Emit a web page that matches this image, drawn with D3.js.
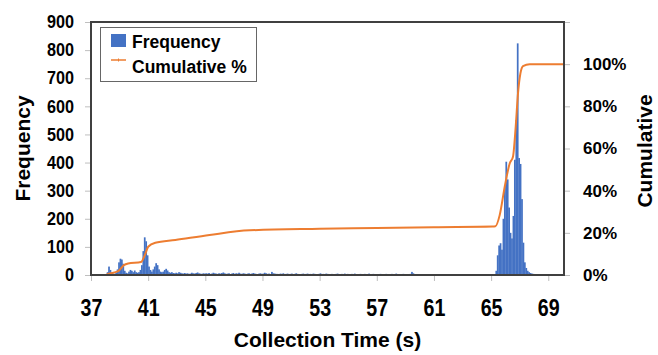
<!DOCTYPE html>
<html>
<head>
<meta charset="utf-8">
<script src="https://cdn.jsdelivr.net/npm/d3@7"></script>
<style>
  body { margin: 0; background: #fff; }
  svg { display: block; font-family: "Liberation Sans", Arial, sans-serif; font-weight: bold; }
</style>
</head>
<body>
<svg id="chart" width="658" height="355"></svg>
<script>
// histogram bins, 0.1 s wide, starting at 37.0 s
const binStart = 37;
const binWidth = 0.1;

// 37.0 - 44.9
const freqEarly = [
  0, 0, 0, 0, 0, 0, 0, 0, 0, 0,
  3, 10, 30, 18, 8, 5, 4, 8, 20, 45,
  58, 55, 40, 15, 8, 6, 12, 18, 15, 10,
  16, 10, 8, 10, 18, 35, 85, 134, 120, 70,
  30, 18, 12, 20, 30, 42, 35, 20, 12, 10,
  12, 18, 22, 16, 10, 8, 10, 7, 6, 8,
  6, 10, 8, 6, 5, 7, 5, 6, 4, 5,
  8, 6, 5, 7, 9, 6, 5, 4, 6, 5
];

// 45.0 - 64.9
const freqMid = [
  6, 5, 7, 4, 5, 8, 6, 5, 4, 6, 5, 7, 9, 6, 4, 5, 6, 3, 5, 7,
  4, 6, 5, 8, 5, 4, 6, 5, 3, 5, 6, 4, 5, 7, 5, 4, 3, 5, 6, 4,
  5, 8, 6, 4, 5, 3, 11, 6, 5, 4,
  4, 3, 5, 4, 6, 3, 4, 5, 3, 4, 5, 3, 4, 6, 4, 3, 2, 4, 5, 3,
  4, 5, 3, 4, 3, 5, 4, 2, 3, 4, 6, 3, 4, 3, 5, 4, 3, 2, 4, 3,
  3, 4, 5, 3, 2, 4, 3, 5, 3, 4,
  3, 2, 4, 3, 5, 3, 2, 3, 4, 2, 3, 4, 2, 3, 5, 3, 2, 4, 3, 2,
  3, 2, 4, 3, 2, 3, 4, 2, 3, 2, 4, 3, 2, 5, 3, 2, 3, 2, 4, 3,
  2, 3, 2, 4, 11, 6, 3, 2, 3, 2,
  2, 3, 2, 1, 3, 2, 2, 3, 1, 2, 2, 1, 3, 2, 1, 2, 2, 1, 3, 1,
  2, 1, 1, 2, 1, 2, 1, 1, 2, 1, 1, 2, 1, 1, 0, 1, 2, 1, 0, 1,
  1, 0, 1, 1, 0, 1, 0, 1, 0, 1
];

// 65.0 - 69.9
const freqLate = [
  0, 0, 0, 15, 70, 105, 113, 90, 200, 320,
  403, 340, 240, 150, 130, 210, 410, 551, 824, 416,
  395, 270, 115, 45, 25, 15, 10, 7, 5, 4,
  3, 3, 2, 2, 2, 1, 1, 1, 0, 0,
  0, 0, 0, 0, 0, 0, 0, 0, 0, 0
];

// cumulative %
const cumTimes = [37, 38.0, 38.2, 38.9, 39.3, 39.6, 40.5, 40.8, 41.0, 41.5, 42.9, 45.3, 48.1, 53.0, 57.0, 61.0, 65.1, 65.3,
  65.6, 65.95, 66.3, 66.53, 66.72, 66.88, 67.05, 67.23, 67.7, 70.1];
const cumPct = [0, 0, 0.5, 1.8, 4.7, 5.5, 6.2, 10, 13.4, 15.3, 16.6, 19.0, 21.2, 21.9, 22.3, 22.7, 23.0, 23.1,
  28.4, 41.8, 52.9, 56.1, 70.3, 86.1, 95.6, 99.1, 100, 100];

const freqTicks = [0, 100, 200, 300, 400, 500, 600, 700, 800, 900];
const pctTicks = [0, 20, 40, 60, 80, 100, 120];
const timeTicks = [37, 41, 45, 49, 53, 57, 61, 65, 69];

const blue = "#4472C4";
const orange = "#ED7D31";

const margin = { top: 22, right: 94, bottom: 80, left: 91 };
const width = 658 - margin.left - margin.right;
const height = 355 - margin.top - margin.bottom;

const svg = d3.select("#chart");
const g = svg.append("g").attr("transform", `translate(${margin.left},${margin.top})`);

const x = d3.scaleLinear().domain([37, 70.1]).range([0, width]);
const y = d3.scaleLinear().domain([0, 900]).range([height, 0]);
const y2 = d3.scaleLinear().domain([0, 120]).range([height, 0]);

const bins = freqEarly.concat(freqMid, freqLate).map((v, i) => ({
  t: binStart + i * binWidth,
  v: v
}));

// axes
const styleAxis = (sel) => {
  sel.select(".domain").remove();
  sel.selectAll(".tick line").attr("stroke", "#bfbfbf");
  sel.selectAll(".tick text").attr("fill", "#000");
};

g.append("g")
  .call(d3.axisLeft(y).tickValues(freqTicks).tickSize(6).tickPadding(13))
  .call(styleAxis)
  .selectAll(".tick text")
  .style("font-size", "18px")
  .attr("transform", "scale(0.9,1)");

g.append("g")
  .attr("transform", `translate(${width},0)`)
  .call(d3.axisRight(y2).tickValues(pctTicks).tickSize(6).tickPadding(13)
    .tickFormat(d => d <= 100 ? d + "%" : ""))
  .call(styleAxis)
  .selectAll(".tick text")
  .style("font-size", "17px");

g.append("g")
  .attr("transform", `translate(0,${height})`)
  .call(d3.axisBottom(x).tickValues(timeTicks).tickSize(6).tickPadding(18))
  .call(styleAxis)
  .selectAll(".tick text")
  .style("font-size", "24px")
  .attr("transform", "scale(0.82,1)");

// bars
g.append("g")
  .selectAll("rect")
  .data(bins.filter(d => d.v > 0))
  .join("rect")
  .attr("x", d => x(d.t))
  .attr("y", d => y(d.v))
  .attr("width", x(binStart + binWidth) - x(binStart) + 0.3)
  .attr("height", d => height - y(d.v))
  .attr("fill", blue);

// cumulative line
const cumData = cumTimes.map((t, i) => ({ t: t, p: cumPct[i] }));
const cumLine = d3.line()
  .x(d => x(d.t))
  .y(d => y2(d.p))
  .curve(d3.curveMonotoneX);

g.append("path")
  .datum(cumData)
  .attr("fill", "none")
  .attr("stroke", orange)
  .attr("stroke-width", 2)
  .attr("d", cumLine);

// plot frame
g.append("rect")
  .attr("width", width)
  .attr("height", height)
  .attr("fill", "none")
  .attr("stroke", "#404040")
  .attr("stroke-width", 2);

// axis titles
svg.append("text")
  .attr("x", margin.left + width / 2)
  .attr("y", 347)
  .attr("text-anchor", "middle")
  .style("font-size", "21px")
  .text("Collection Time (s)");

svg.append("text")
  .attr("transform", `translate(30,${margin.top + height / 2}) rotate(-90)`)
  .attr("text-anchor", "middle")
  .style("font-size", "21px")
  .text("Frequency");

svg.append("text")
  .attr("transform", `translate(652,151) rotate(-90)`)
  .attr("text-anchor", "middle")
  .style("font-size", "21px")
  .text("Cumulative");

// legend
const legend = svg.append("g");
legend.append("rect")
  .attr("x", 100.5).attr("y", 27.5)
  .attr("width", 156).attr("height", 54)
  .attr("fill", "#fff")
  .attr("stroke", "#666")
  .attr("stroke-width", 1);
legend.append("rect")
  .attr("x", 111).attr("y", 34)
  .attr("width", 15).attr("height", 13)
  .attr("fill", blue);
legend.append("line")
  .attr("x1", 111).attr("x2", 126)
  .attr("y1", 60).attr("y2", 60)
  .attr("stroke", orange).attr("stroke-width", 1.5);
legend.append("line")
  .attr("x1", 118.5).attr("x2", 118.5)
  .attr("y1", 58.5).attr("y2", 61.5)
  .attr("stroke", orange).attr("stroke-width", 1);
legend.append("text")
  .attr("x", 132).attr("y", 47.5)
  .style("font-size", "17.5px")
  .text("Frequency");
legend.append("text")
  .attr("x", 132).attr("y", 72.5)
  .style("font-size", "17.5px")
  .text("Cumulative %");
</script>
</body>
</html>
